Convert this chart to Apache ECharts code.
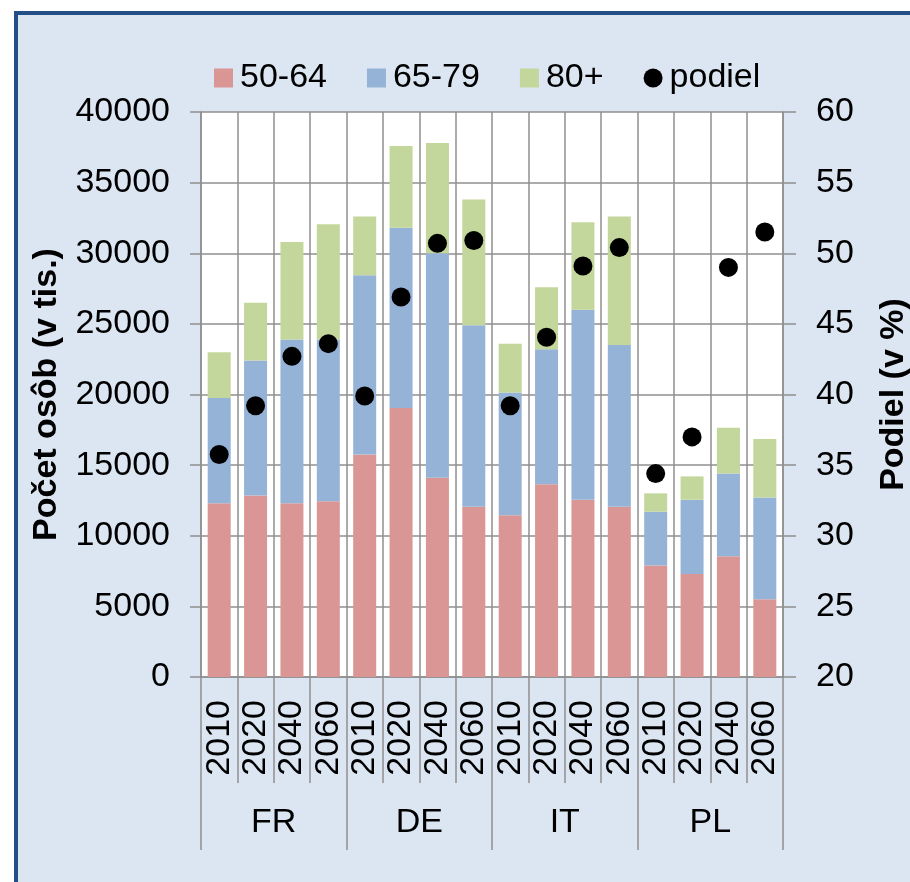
<!DOCTYPE html>
<html>
<head>
<meta charset="utf-8">
<script src="https://cdn.jsdelivr.net/npm/echarts@6/dist/echarts.min.js"></script>
<style>
html,body{margin:0;padding:0;background:#fff;}
#main{width:910px;height:882px;}
</style>
</head>
<body>
<div id="main"></div>
<script>
var countries = ['FR', 'DE', 'IT', 'PL'];
var years = ['2010', '2020', '2040', '2060'];
var s5064 = [12300, 12850, 12300, 12450, 15750, 19050, 14100, 12050, 11450, 13650, 12550, 12050, 7900, 7300, 8550, 5500];
var s6579 = [7450, 9550, 11600, 11450, 12700, 12750, 15900, 12850, 8700, 9550, 13450, 11450, 3800, 5250, 5850, 7200];
var s80 = [3250, 4100, 6900, 8150, 4150, 5800, 7800, 8900, 3450, 4400, 6200, 9100, 1300, 1650, 3250, 4150];
var podiel = [35.75, 39.2, 42.7, 43.6, 39.9, 46.9, 50.7, 50.9, 39.2, 44.05, 49.1, 50.4, 34.4, 37.0, 49.0, 51.5];

var yearLabels = [];
countries.forEach(function () { years.forEach(function (y) { yearLabels.push(y); }); });

var FONT = '"Liberation Sans", Arial, sans-serif';
var GRID = '#8f8f8f';
var chart = echarts.init(document.getElementById('main'), null, {renderer: 'canvas'});
chart.setOption({
  animation: false,
  backgroundColor: '#ffffff',
  textStyle: {fontFamily: FONT, color: '#000'},
  graphic: [
    {type: 'rect', z: -10, shape: {x: 15, y: 12, width: 900, height: 875}, style: {fill: '#dce6f2'}},
    {type: 'line', z: -9, shape: {x1: 16, y1: 12, x2: 16, y2: 882}, style: {stroke: '#234f86', lineWidth: 4}},
    {type: 'line', z: -9, shape: {x1: 14, y1: 13, x2: 910, y2: 13}, style: {stroke: '#234f86', lineWidth: 4}}
  ],
  legend: {
    left: 209, top: 56,
    itemWidth: 19, itemHeight: 19, itemGap: 40,
    textStyle: {fontSize: 34, fontFamily: FONT, color: '#000', padding: [0, 0, 0, 2]},
    data: [
      {name: '50-64', icon: 'rect'},
      {name: '65-79', icon: 'rect'},
      {name: '80+', icon: 'rect'},
      {name: 'podiel', icon: 'circle'}
    ]
  },
  grid: {left: 201, right: 127, top: 112, bottom: 205, show: true, backgroundColor: '#ffffff', borderWidth: 0, containLabel: false, outerBoundsMode: 'none'},
  xAxis: [
    {
      type: 'category', data: yearLabels, position: 'bottom',
      axisLine: {show: true, lineStyle: {color: GRID, width: 1.5}},
      axisTick: {show: true, interval: 0, length: 106, lineStyle: {color: GRID, width: 1.5}},
      axisLabel: {interval: 0, rotate: 90, margin: 23, fontSize: 34, color: '#000', fontFamily: FONT},
      splitLine: {show: true, interval: 0, lineStyle: {color: GRID, width: 1.5}}
    },
    {
      type: 'category', data: countries, position: 'bottom',
      axisLine: {show: false},
      axisTick: {show: true, interval: 0, length: 173, lineStyle: {color: GRID, width: 1.5}},
      axisLabel: {interval: 0, margin: 129, fontSize: 34, color: '#000', fontFamily: FONT},
      splitLine: {show: false}
    }
  ],
  yAxis: [
    {
      type: 'value', min: 0, max: 40000, interval: 5000, position: 'left',
      name: 'Počet osôb (v tis.)', nameLocation: 'middle', nameRotate: 90, nameGap: 137,
      nameTextStyle: {fontSize: 34, fontWeight: 'bold', color: '#000', fontFamily: FONT},
      axisLine: {show: true, lineStyle: {color: GRID, width: 1.5}},
      axisTick: {show: true, length: 11, lineStyle: {color: GRID, width: 1.5}},
      axisLabel: {margin: 31, fontSize: 34, color: '#000', fontFamily: FONT, formatter: function (v) { return String(v); }},
      splitLine: {show: true, lineStyle: {color: GRID, width: 1.5}}
    },
    {
      type: 'value', min: 20, max: 60, interval: 5, position: 'right',
      name: 'Podiel (v %)', nameLocation: 'middle', nameRotate: 90, nameGap: 94,
      nameTextStyle: {fontSize: 34, fontWeight: 'bold', color: '#000', fontFamily: FONT},
      axisLine: {show: true, lineStyle: {color: GRID, width: 1.5}},
      axisTick: {show: true, length: 13, lineStyle: {color: GRID, width: 1.5}},
      axisLabel: {margin: 33, fontSize: 34, color: '#000', fontFamily: FONT},
      splitLine: {show: false}
    }
  ],
  series: [
    {name: '50-64', type: 'bar', stack: 'a', barWidth: 23, data: s5064, itemStyle: {color: '#d99694'}},
    {name: '65-79', type: 'bar', stack: 'a', barWidth: 23, data: s6579, itemStyle: {color: '#95b3d7'}},
    {name: '80+', type: 'bar', stack: 'a', barWidth: 23, data: s80, itemStyle: {color: '#c3d69b'}},
    {name: 'podiel', type: 'scatter', yAxisIndex: 1, symbol: 'circle', symbolSize: 19, data: podiel, itemStyle: {color: '#000', opacity: 1}, z: 5}
  ]
});
</script>
</body>
</html>
